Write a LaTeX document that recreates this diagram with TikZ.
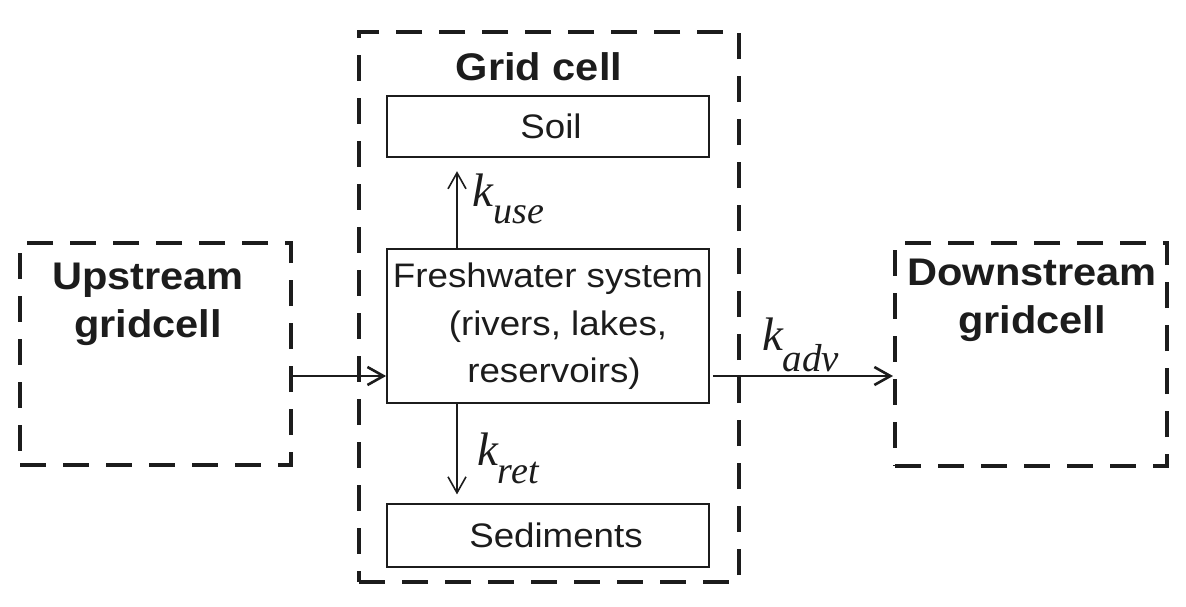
\documentclass[tikz,border=0pt]{standalone}
\usepackage{fontspec}
\setmainfont{Liberation Sans}[FakeStretch=1.08]
\newfontfamily\kfont{Liberation Serif}
\usetikzlibrary{arrows.meta}
\definecolor{ink}{RGB}{28,28,28}
\begin{document}
\begin{tikzpicture}[x=0.5pt,y=-0.5pt,
  dbox/.style={draw=ink, line width=2pt, dash pattern=on 13pt off 8.5pt, inner sep=0pt},
  sbox/.style={draw=ink, line width=0.9pt, inner sep=0pt, text=ink, font=\fontsize{17pt}{23.75pt}\selectfont},
  btext/.style={inner sep=0pt, text=ink, align=center, font=\bfseries\fontsize{19.25pt}{24pt}\selectfont},
  arr/.style={draw=ink, -{Straight Barb[length=8pt,width=9pt]}},
  klabel/.style={inner sep=0pt, anchor=base west, text=ink}]
\useasboundingbox (0,0) rectangle (1186,606);
% dashed boxes
\node[dbox, minimum width=190pt, minimum height=275pt] (grid) at (549,307) {};
\node[dbox, minimum width=135.5pt, minimum height=111pt] (up) at (155.5,354) {};
\node[dbox, minimum width=136pt, minimum height=111.5pt] (down) at (1031,354.5) {};
% labels of dashed boxes
\node[btext, anchor=base] (gridlabel) at (539,80) {Grid cell};
\node[btext] (uplabel) at (148,304) {Upstream\\gridcell};
\node[btext] (downlabel) at (1032,300.5) {Downstream\\gridcell};
% inner boxes
\node[sbox, minimum width=161pt, minimum height=30.8pt] (soil) at (548,126.5) {\hspace*{3pt}Soil};
\node[sbox, minimum width=161pt, minimum height=77pt, align=center] (fw) at (548,326.3)
  {Freshwater system\\\hspace*{10pt}(rivers, lakes,\\\hspace*{6pt}reservoirs)};
\node[sbox, minimum width=161pt, minimum height=31.2pt] (sed) at (548,535.5) {\hspace*{8pt}Sediments};
% arrows
\coordinate (hy) at (0,376);
\coordinate (vx) at (457,0);
\draw[arr, line width=1.3pt] (up.east |- hy) -- (fw.west |- hy);
\draw[arr, line width=1.3pt, shorten <=1.5pt] (fw.east |- hy) -- (down.west |- hy);
\draw[arr, line width=0.8pt, shorten >=6.5pt] (fw.north -| vx) -- (soil.south -| vx);
\draw[arr, line width=0.8pt, shorten >=4.5pt] (fw.south -| vx) -- (sed.north -| vx);
% rate labels
\node[klabel] (kuse) at (472,206.7) {\kfont\itshape\fontsize{23.5pt}{23.5pt}\selectfont k\raisebox{-8.3pt}{\fontsize{19pt}{19pt}\selectfont use}};
\node[klabel] (kret) at (476.7,465) {\kfont\itshape\fontsize{23.5pt}{23.5pt}\selectfont k\raisebox{-9pt}{\fontsize{19pt}{19pt}\selectfont ret}};
\node[klabel] (kadv) at (761.7,350) {\kfont\itshape\fontsize{23.5pt}{23.5pt}\selectfont k\raisebox{-10.5pt}{\fontsize{19.5pt}{19.5pt}\selectfont adv}};
\end{tikzpicture}
\end{document}
